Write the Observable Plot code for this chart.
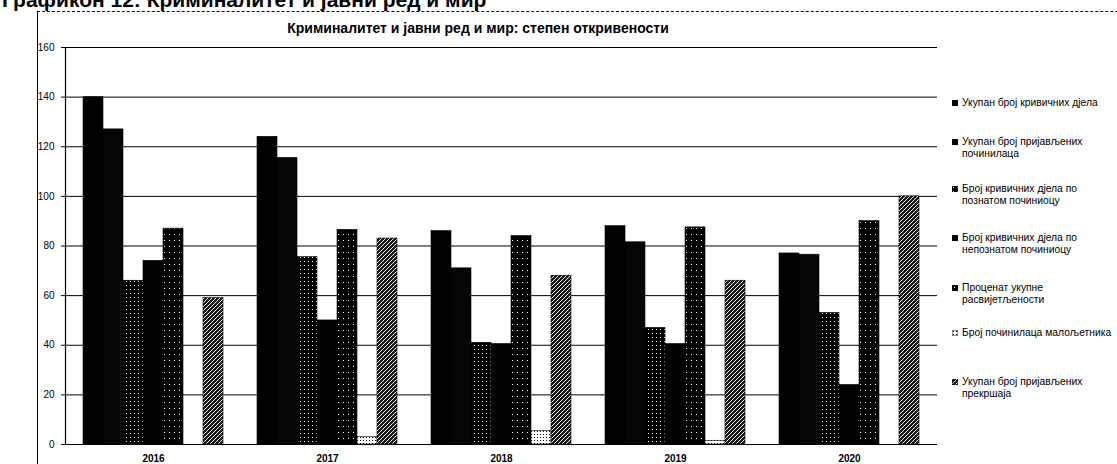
<!DOCTYPE html>
<html><head><meta charset="utf-8">
<script src="https://cdn.jsdelivr.net/npm/d3@7"></script>
<script src="https://cdn.jsdelivr.net/npm/@observablehq/plot@0.6"></script>
<style>
body{margin:0;background:#fff;}
#wrap{position:relative;width:1117px;height:464px;overflow:hidden;font-family:"Liberation Sans",Arial,sans-serif;color:#000;background:#fff;}
#heading{position:absolute;left:2px;top:-12px;font-size:21px;font-weight:bold;white-space:nowrap;}
#frame{position:absolute;left:37px;top:11px;width:1200px;height:600px;border-left:1.5px solid #000;border-top:1px dashed #000;}
#title{position:absolute;left:0;width:956px;top:20px;text-align:center;font-size:14px;font-weight:bold;}
#grid, #chart{position:absolute;left:0;top:40px;}
#legend{position:absolute;left:952px;top:0;font-size:10.3px;}
.item{position:absolute;left:0;width:170px;line-height:11.5px;padding-left:10px;white-space:pre-line;}
.item svg{position:absolute;left:0;top:2.5px;}
</style></head>
<body>
<svg width="0" height="0" style="position:absolute">
<defs>
<pattern id="p3" width="4" height="4" patternUnits="userSpaceOnUse"><rect width="4" height="4" fill="#000"/><rect x="1" y="1" width="1" height="1" fill="#fff"/></pattern>
<pattern id="p5" width="5" height="6" patternUnits="userSpaceOnUse"><rect width="5" height="6" fill="#000"/><rect x="2" y="2" width="1" height="1" fill="#fff"/></pattern>
<pattern id="p6" width="3" height="3" patternUnits="userSpaceOnUse"><rect width="3" height="3" fill="#fff"/><rect x="1" y="1" width="1" height="1" fill="#000"/></pattern>
<pattern id="p7" width="4" height="4" patternUnits="userSpaceOnUse"><rect width="4" height="4" fill="#1a1a1a"/><rect x="0" y="0" width="1" height="1" fill="#fff"/><rect x="2" y="2" width="1" height="1" fill="#fff"/><rect x="3" y="1" width="1" height="1" fill="#ddd"/><rect x="1" y="3" width="1" height="1" fill="#ddd"/></pattern>
</defs>
</svg>
<div id="wrap">
  <div id="heading">Графикон 12: Криминалитет и јавни ред и мир</div>
  <div id="frame"></div>
  <div id="title">Криминалитет и јавни ред и мир: степен откривености</div>
  <div id="grid"></div>
  <div id="chart"></div>
  <div id="legend"></div>
</div>
<script>
const years = ["2016", "2017", "2018", "2019", "2020"];
const seriesNames = [
  "Укупан број кривичних дјела",
  "Укупан број пријављених починилаца",
  "Број кривичних дјела по познатом починиоцу",
  "Број кривичних дјела по непознатом починиоцу",
  "Проценат укупне расвијетљености",
  "Број починилаца малољетника",
  "Укупан број пријављених прекршаја"
];
const legendLabels = [
  "Укупан број кривичних дјела",
  "Укупан број пријављених\nпочинилаца",
  "Број кривичних дјела по\nпознатом починиоцу",
  "Број кривичних дјела по\nнепознатом починиоцу",
  "Проценат укупне\nрасвијетљености",
  "Број починилаца малољетника",
  "Укупан број пријављених\nпрекршаја"
];
const s1 = [140, 124, 86, 88, 77];
const s2 = [127, 115.5, 71, 81.5, 76.5];
const s3 = [66, 75.5, 41, 47, 53];
const s4 = [74, 50, 40.5, 40.5, 24];
const s5 = [87, 86.5, 84, 87.5, 90];
const s6 = [0, 3, 5.5, 1.5, 0];
const s7 = [59, 83, 68, 66, 100];
const yTicks = [0, 20, 40, 60, 80, 100, 120, 140, 160];
const fills = ["#000", "#050505", "url(#p3)", "#000", "url(#p5)", "url(#p6)", "url(#p7)"];
const legendTops = [97, 136, 183, 232, 282, 327, 376];

const values = [s1, s2, s3, s4, s5, s6, s7];
const data = years.flatMap((yr, i) => seriesNames.map((s, j) => ({year: yr, series: s, value: values[j][i]})));

const common = {
  width: 940, height: 426,
  marginLeft: 65, marginRight: 3, marginTop: 7, marginBottom: 22,
  style: {fontFamily: "Liberation Sans, Arial, sans-serif", background: "transparent", color: "#000"}
};

// background layer: continuous gridlines, left axis line and y tick labels
const grid = Plot.plot({
  ...common,
  y: {domain: [0, 160], label: null, axis: null},
  marks: [
    Plot.ruleY(yTicks, {stroke: "#000", strokeWidth: 1}),
    Plot.frame({anchor: "left", stroke: "#000", strokeWidth: 1.2}),
    Plot.axisY({ticks: yTicks, tickSize: 4, tickPadding: 7, fontSize: 10, tickFormat: d => d, label: null})
  ]
});
document.getElementById("grid").appendChild(grid);

// foreground layer: grouped bars
const plot = Plot.plot({
  ...common,
  fx: {domain: years, paddingInner: 0.185, paddingOuter: 0.085, label: null},
  x: {domain: seriesNames, padding: 0, axis: null},
  y: {domain: [0, 160], label: null, axis: null},
  color: {domain: seriesNames, range: fills},
  marks: [
    Plot.barY(data, {fx: "year", x: "series", y: "value", fill: "series", stroke: "#000", strokeWidth: 0.6}),
    Plot.axisFx({anchor: "bottom", tickSize: 0, tickPadding: 10, fontSize: 10, fontWeight: "bold", label: null})
  ]
});
document.getElementById("chart").appendChild(plot);

const legend = document.getElementById("legend");
legendLabels.forEach((lab, i) => {
  const div = document.createElement("div");
  div.className = "item";
  div.style.top = legendTops[i] + "px";
  div.innerHTML = `<svg width="6" height="6"><rect width="6" height="6" fill="${fills[i]}" stroke="#000" stroke-width="0.8"/></svg>`;
  div.appendChild(document.createTextNode(lab));
  legend.appendChild(div);
});
</script>
</body></html>
